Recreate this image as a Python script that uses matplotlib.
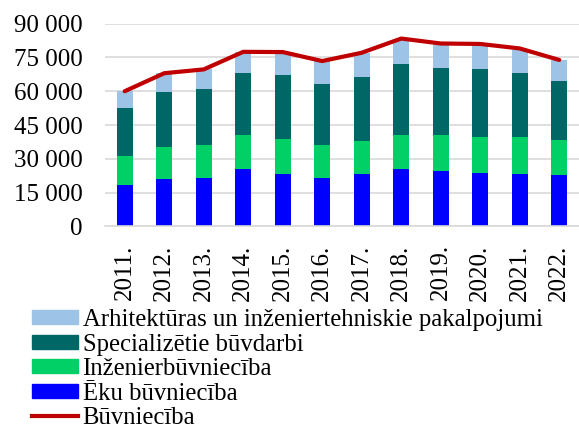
import matplotlib
matplotlib.use("Agg")
import matplotlib.pyplot as plt
import numpy as np
from matplotlib.patches import Patch
from matplotlib.lines import Line2D

years = ["2011.", "2012.", "2013.", "2014.", "2015.", "2016.", "2017.", "2018.", "2019.", "2020.", "2021.", "2022."]
eku = [18200, 21200, 21300, 25300, 23200, 21600, 23400, 25500, 24600, 23700, 23400, 23000]
inzenier = [13200, 14200, 14800, 15300, 15700, 14400, 14500, 15200, 16000, 16000, 16100, 15200]
special = [21200, 24400, 25000, 27400, 28300, 27200, 28400, 31500, 29600, 30300, 28700, 26200]
arhitekt = [7400, 8400, 8600, 9500, 10200, 10100, 10500, 10800, 10400, 10500, 10100, 9500]
buvnieciba = [60000, 68000, 69700, 77500, 77400, 73400, 77100, 83400, 81200, 81000, 79000, 73900]
yticks = [0, 15000, 30000, 45000, 60000, 75000, 90000]
yticklabels = ["0", "15 000", "30 000", "45 000", "60 000", "75 000", "90 000"]
labels = ["Arhitektūras un inženiertehniskie pakalpojumi", "Specializētie būvdarbi",
          "Inženierbūvniecība", "Ēku būvniecība", "Būvniecība"]

c_arh = "#9DC3E6"
c_spec = "#006767"
c_inz = "#00D066"
c_eku = "#0000FF"
c_line = "#C00000"

plt.rcParams['font.family'] = ['Liberation Serif', 'DejaVu Serif']

fig = plt.figure(figsize=(5.79, 4.30), dpi=100)
ax = fig.add_axes([0.1813, 0.4737, 0.8187, 0.4712])

x = np.arange(len(years))
w = 0.4
b1 = np.array(eku)
b2 = b1 + np.array(inzenier)
b3 = b2 + np.array(special)
ax.bar(x, eku, w, color=c_eku, zorder=2)
ax.bar(x, inzenier, w, bottom=b1, color=c_inz, zorder=2)
ax.bar(x, special, w, bottom=b2, color=c_spec, zorder=2)
ax.bar(x, arhitekt, w, bottom=b3, color=c_arh, zorder=2)
ax.plot(x, buvnieciba, color=c_line, lw=3, zorder=3, solid_capstyle='round')

ax.set_xlim(-0.5, len(years) - 0.5)
ax.set_ylim(0, 90000)
ax.set_yticks(yticks)
ax.set_yticklabels(yticklabels, fontsize=18)
ax.set_xticks(x)
ax.set_xticklabels(years, rotation=90, fontsize=18)
ax.tick_params(axis='y', length=0, pad=16)
ax.tick_params(axis='x', length=0, pad=13)
ax.yaxis.grid(True, color="#D9D9D9", lw=1.2, zorder=0)
ax.set_axisbelow(True)
for s in ["top", "right", "left"]:
    ax.spines[s].set_visible(False)
ax.spines["bottom"].set_color("#D9D9D9")
ax.spines["bottom"].set_linewidth(1.2)

handles = [Patch(color=c_arh), Patch(color=c_spec), Patch(color=c_inz), Patch(color=c_eku),
           Line2D([0], [0], color=c_line, lw=3)]
fig.legend(handles, labels, loc="upper left", bbox_to_anchor=(0.055, 0.281),
           frameon=False, fontsize=17.8, handlelength=1.85, handleheight=0.5,
           handletextpad=0.2, labelspacing=0.1, borderaxespad=0, borderpad=0)

fig.savefig("out.png", dpi=100)
